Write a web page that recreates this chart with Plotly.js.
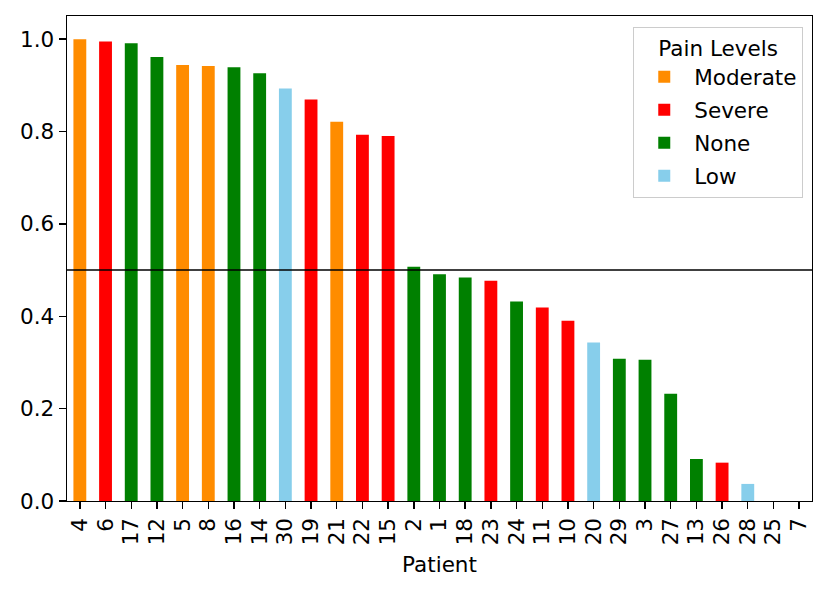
<!DOCTYPE html>
<html>
<head>
<meta charset="utf-8">
<script src="https://cdn.plot.ly/plotly-3.0.1.min.js"></script>
<style>html,body{margin:0;padding:0;background:#fff;}#chart{width:831px;height:592px;}</style>
</head>
<body>
<div id="chart"></div>
<script>
const patients = ["4","6","17","12","5","8","16","14","30","19","21","22","15","2","1","18","23","24","11","10","20","29","3","27","13","26","28","25","7"];
const scores = [0.9995,0.995,0.991,0.961,0.944,0.942,0.939,0.926,0.893,0.869,0.821,0.793,0.790,0.507,0.491,0.484,0.477,0.432,0.419,0.390,0.343,0.308,0.306,0.232,0.091,0.083,0.037,0.0,0.0];
const pain = ["Moderate","Severe","None","None","Moderate","Moderate","None","None","Low","Severe","Moderate","Severe","Severe","None","None","None","Severe","None","Severe","Severe","Low","None","None","None","None","Severe","Low","None","None"];
const levels = ["Moderate","Severe","None","Low"];
const levelColors = ["#FF8C00","#FF0000","#008000","#87CEEB"];
const threshold = 0.5;
const yTicks = [0.0,0.2,0.4,0.6,0.8,1.0];

const traces = levels.map((lv, k) => {
  const xs = [], ys = [];
  patients.forEach((p, i) => { if (pain[i] === lv) { xs.push(p); ys.push(scores[i]); } });
  return {type:"bar", name:lv, legendgroup:lv, x:xs, y:ys, width:0.5, marker:{color:levelColors[k], line:{width:0}}};
});

const FS = 21.5;
const font = {family:"DejaVu Sans, sans-serif", size:FS, color:"#000"};
const layout = {
  width:831, height:592,
  margin:{l:67, r:19, t:16, b:91},
  paper_bgcolor:"#fff", plot_bgcolor:"#fff",
  font:font,
  barmode:"overlay",
  showlegend:true,
  xaxis:{
    type:"category", categoryorder:"array", categoryarray:patients,
    range:[-0.5, patients.length - 0.5],
    tickmode:"array", tickvals:patients, ticktext:patients,
    tickangle:-90, ticks:"outside", ticklen:7, tickwidth:1.4, tickcolor:"#000",
    showline:true, linecolor:"#000", linewidth:1.4, mirror:true, showgrid:false, zeroline:false,
    title:{text:"Patient", font:{family:"DejaVu Sans, sans-serif", size:FS}, standoff:12},
    tickfont:{size:FS}
  },
  yaxis:{
    range:[0, 1.05], tickvals:yTicks, ticktext:yTicks.map(v=>v.toFixed(1)),
    ticks:"outside", ticklen:7, tickwidth:1.4, tickcolor:"#000",
    showline:true, linecolor:"#000", linewidth:1.4, mirror:true, showgrid:false, zeroline:false,
    tickfont:{size:FS}
  },
  shapes:[{type:"line", xref:"paper", yref:"y", x0:0, x1:1, y0:threshold, y1:threshold, line:{color:"#000", width:1.6}}],
  legend:{
    title:{text:"Pain Levels", font:{size:FS}, side:"top center"},
    x:0.988, xanchor:"right", y:0.977, yanchor:"top",
    bordercolor:"#cccccc", borderwidth:1.2, bgcolor:"rgba(255,255,255,0.8)",
    font:{size:FS}, itemwidth:50, tracegroupgap:2
  }
};
Plotly.newPlot("chart", traces, layout, {displayModeBar:false, staticPlot:true});
</script>
</body>
</html>
